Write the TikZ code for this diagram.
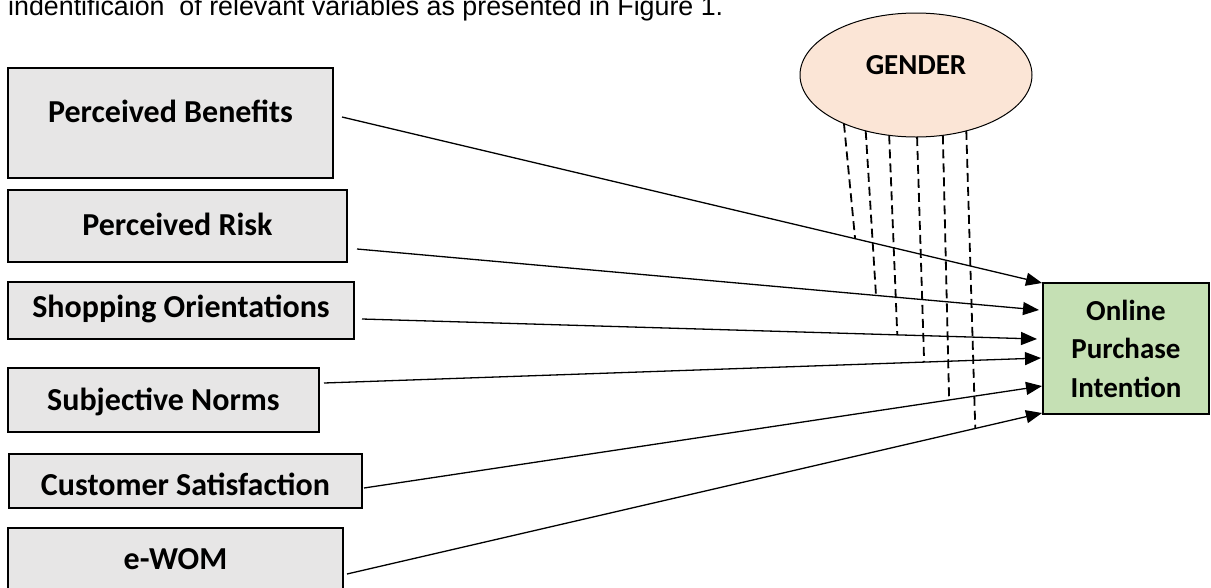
\documentclass[tikz,border=0pt]{standalone}
\usepackage{fontspec}
\setmainfont{Carlito}
\newfontfamily\introfont{Liberation Sans}
\usetikzlibrary{arrows.meta,positioning,shapes.geometric}
\definecolor{boxgrey}{HTML}{E7E6E6}
\definecolor{peach}{HTML}{FBE5D6}
\definecolor{lightgreen}{HTML}{C5E0B4}

\begin{document}
\begin{tikzpicture}[x=1pt,y=-1pt,
    var/.style={draw,line width=2.5pt,fill=boxgrey,inner sep=0pt,outer sep=0pt,
      font=\fontsize{32}{38}\selectfont\bfseries,text height=20.2pt},
    link/.style={-{Triangle[length=16pt,width=13pt]},line width=1.3pt},
    moder/.style={dash pattern=on 9pt off 5pt,line width=1.8pt}]
   \useasboundingbox (0,0) rectangle (1211,587);
   \clip (0,0) rectangle (1211,587);
   \node[anchor=base west,inner sep=0pt,font=\introfont\fontsize{26.8}{31}\selectfont] (intro) at (8,15)
      {indentificaion\ \ of relevant variables as presented in Figure 1.};
   % independent variables
   \node[var,minimum width=325pt,minimum height=110pt,text depth=22pt] (pb) at (170.5,123) {Perceived Benefits};
   \node[var,minimum width=339pt,minimum height=72pt,text depth=2pt] (pr) [below right=12pt and 0pt of pb.south west] {Perceived Risk};
   \node[var,minimum width=346pt,minimum height=57pt,text depth=6pt] (so) [below right=20pt and 0pt of pr.south west] {Shopping Orientations};
   \node[var,minimum width=311pt,minimum height=64pt,text depth=0pt] (sn) [below right=29pt and 0pt of so.south west] {Subjective Norms};
   \node[var,minimum width=353pt,minimum height=54pt,text height=28.2pt,text depth=0pt] (cs) [below right=22pt and 1pt of sn.south west] {Customer Satisfaction};
   \node[var,minimum width=335pt,minimum height=64pt,text depth=2pt] (ew) [below right=20pt and -1pt of cs.south west] {e-WOM};
   % moderator and outcome
   \node[ellipse,draw,line width=1pt,fill=peach,minimum width=232pt,minimum height=124pt,inner sep=0pt,outer sep=0pt,
      font=\fontsize{29}{35}\selectfont\bfseries,text height=18.3pt,text depth=20pt] (gender) at (916,75) {GENDER};
   \node[draw,line width=2pt,fill=lightgreen,minimum width=166pt,minimum height=131pt,inner sep=0pt,align=center,
      font=\fontsize{29}{38.5}\selectfont\bfseries] (opi) at (1126,348.5) {Online\\Purchase\\Intention};
   % direct effects
   \draw[link] ([shift={(9,-6)}]pb.east) -- coordinate[pos=0.733] (m1) ([shift={(0,-65.5)}]opi.west);
   \draw[link] ([shift={(10,23)}]pr.east) -- coordinate[pos=0.761] (m2) ([shift={(-3,-38.5)}]opi.west);
   \draw[link] ([shift={(8,8.5)}]so.east) -- coordinate[pos=0.793] (m3) ([shift={(-5,-9.5)}]opi.west);
   \draw[link] ([shift={(5,-17)}]sn.east) -- coordinate[pos=0.837] (m4) ([shift={(-1,9.5)}]opi.west);
   \draw[link] ([shift={(2,7)}]cs.east) -- coordinate[pos=0.863] (m5) ([shift={(0,37.5)}]opi.west);
   \draw[link] ([shift={(4,14)}]ew.east) -- coordinate[pos=0.904] (m6) ([shift={(0,64.5)}]opi.west);
   % moderating effects
   \path[moder]
    (gender.214) edge (m1)
    (gender.228) edge (m2)
    (gender.246) edge (m3)
    (gender.271) edge (m4)
    (gender.294) edge (m5)
    (gender.312) edge (m6);
\end{tikzpicture}
\end{document}
